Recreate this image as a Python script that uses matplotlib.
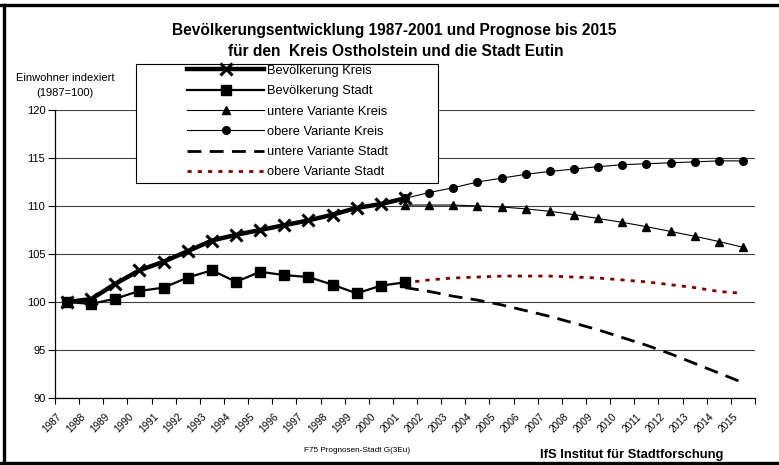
import matplotlib.pyplot as plt
from matplotlib.lines import Line2D
from matplotlib.patches import Rectangle
import matplotlib.transforms as mtransforms

plt.rcParams['font.family'] = ['Liberation Sans', 'DejaVu Sans']

# Daten
years = [str(y) for y in range(1987, 2016)]
kreis = [100.0, 100.3, 101.9, 103.3, 104.2, 105.3, 106.4, 107.0, 107.5, 108.0,
         108.5, 109.1, 109.8, 110.2, 110.8]
stadt = [100.0, 99.8, 100.35, 101.15, 101.5, 102.55, 103.3, 102.1, 103.15, 102.8,
         102.6, 101.8, 100.9, 101.7, 102.05]
# Prognosen ab 2001
untere_kreis = [110.1, 110.1, 110.1, 110.0, 109.9, 109.7, 109.45, 109.1, 108.7,
                108.3, 107.85, 107.35, 106.85, 106.3, 105.7]
obere_kreis = [110.8, 111.4, 111.9, 112.5, 112.9, 113.3, 113.6, 113.85, 114.1,
               114.3, 114.4, 114.5, 114.6, 114.7, 114.7]
untere_stadt = [101.5, 101.1, 100.6, 100.2, 99.7, 99.1, 98.5, 97.8, 97.1, 96.3,
                95.5, 94.6, 93.6, 92.6, 91.6]
obere_stadt = [102.0, 102.3, 102.5, 102.6, 102.7, 102.7, 102.7, 102.6, 102.5,
               102.3, 102.1, 101.8, 101.5, 101.1, 100.9]

W, H = 779, 465
fig = plt.figure(figsize=(W / 100, H / 100), dpi=100)

def px(x0, y0, x1, y1):
    return [x0 / W, 1 - y1 / H, (x1 - x0) / W, (y1 - y0) / H]

ax = fig.add_axes(px(55, 110, 755, 398))

xh = list(range(len(kreis)))
xp = list(range(len(kreis) - 1, len(years)))

ax.plot(xh, kreis, color='black', lw=3.2, marker='x', ms=8.5, mew=2.2,
        label='Bevölkerung Kreis', zorder=6)
ax.plot(xh, stadt, color='black', lw=1.6, marker='s', ms=7,
        label='Bevölkerung Stadt', zorder=5)
ax.plot(xp, untere_kreis, color='black', lw=0.8, marker='^', ms=5.5,
        label='untere Variante Kreis', zorder=4)
ax.plot(xp, obere_kreis, color='black', lw=0.8, marker='o', ms=5.5,
        label='obere Variante Kreis', zorder=4)
ax.plot(xp, untere_stadt, color='black', lw=2, dashes=(5, 3),
        label='untere Variante Stadt', zorder=3)
ax.plot(xp, obere_stadt, color='#800000', lw=2, dashes=(1.5, 2.2),
        label='obere Variante Stadt', zorder=3)

ax.set_xlim(-0.5, len(years) - 0.5)
ax.set_ylim(90, 120)
ax.set_yticks(range(90, 121, 5))
ax.yaxis.grid(True, color='#404040', lw=0.8)
ax.set_axisbelow(True)

ax.set_xticks(range(len(years)))
ax.set_xticklabels(years, rotation=45, ha='right', va='center',
                   rotation_mode='anchor', fontsize=7.2)
ax.set_xticks([i - 0.5 for i in range(len(years) + 1)], minor=True)
ax.tick_params(axis='x', which='major', length=0, pad=0)
ax.tick_params(axis='x', which='minor', length=4, width=0.8, direction='out')
ax.tick_params(axis='y', length=5, width=0.8, labelsize=8, pad=2)
off = mtransforms.ScaledTranslation(-7 / 100, -17 / 100, fig.dpi_scale_trans)
for lbl in ax.get_xticklabels():
    lbl.set_transform(lbl.get_transform() + off)

for s in ['top', 'right']:
    ax.spines[s].set_visible(False)
ax.spines['left'].set_linewidth(0.9)
ax.spines['bottom'].set_linewidth(0.9)

# Legende mit eigenem Rahmen
frame = Rectangle((136 / W, 1 - 183 / H), 302 / W, 119 / H, transform=fig.transFigure,
                  facecolor='white', edgecolor='black', lw=0.8, zorder=9, clip_on=False)
ax.add_patch(frame)
leg = ax.legend(loc='upper left', bbox_to_anchor=(183 / W, 1 - 61 / H),
                bbox_transform=fig.transFigure, fontsize=9.3, frameon=False,
                handlelength=6.0, handletextpad=0.2, labelspacing=0.64,
                borderpad=0.3, borderaxespad=0)
leg.set_zorder(10)

fig.text(394 / W, 1 - 30 / H, 'Bevölkerungsentwicklung 1987-2001 und Prognose bis 2015',
         ha='center', va='center', fontsize=11.2, fontweight='bold')
fig.text(396 / W, 1 - 51 / H, 'für den  Kreis Ostholstein und die Stadt Eutin',
         ha='center', va='center', fontsize=11.2, fontweight='bold')
fig.text(65 / W, 1 - 78 / H, 'Einwohner indexiert', ha='center', va='center', fontsize=8)
fig.text(65 / W, 1 - 93 / H, '(1987=100)', ha='center', va='center', fontsize=8)
fig.text(357 / W, 1 - 450 / H, 'F75 Prognosen-Stadt G(3Eu)', ha='center', va='center',
         fontsize=5.9)
fig.text(632 / W, 1 - 455 / H, 'IfS Institut für Stadtforschung', ha='center',
         va='center', fontsize=9.4, fontweight='bold')

# Rahmen
for xs, ys in [([0, 1], [1 - 5 / H, 1 - 5 / H]),
               ([4 / W, 4 / W], [0, 1 - 5 / H]),
               ([0, 1], [2 / H, 2 / H])]:
    fig.add_artist(Line2D(xs, ys, color='black', lw=2.4))

fig.savefig('out.png', dpi=100)
